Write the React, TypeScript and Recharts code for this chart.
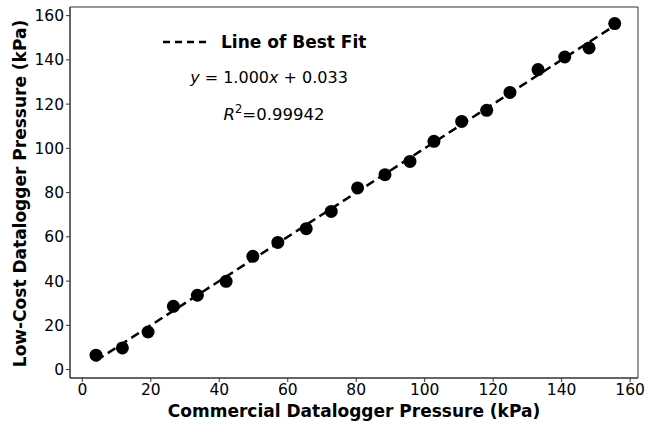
import React from 'react';
import { ScatterChart, Scatter, XAxis, YAxis, ReferenceArea } from 'recharts';

// commercial logger readings (kPa) vs low-cost logger readings (kPa)
const commercialKPa = [4.0, 11.7, 19.2, 26.6, 33.6, 42.0, 49.8, 57.1, 65.4, 72.7, 80.4, 88.4, 95.7, 102.7, 110.8, 118.1, 124.9, 133.1, 140.9, 148.0, 155.5];
const lowCostKPa = [6.5, 9.8, 17.0, 28.6, 33.6, 39.9, 51.2, 57.5, 63.7, 71.5, 82.1, 88.1, 94.1, 103.2, 112.2, 117.2, 125.3, 135.6, 141.3, 145.4, 156.4];

// end points of the fitted line y = 1.000x + 0.033
const fitX = [4.0, 156.5];
const fitY = [4.03, 156.53];

const tickValues = [0, 20, 40, 60, 80, 100, 120, 140, 160];

const points = commercialKPa.map((x, i) => ({ x, y: lowCostKPa[i] }));
const fitLine = fitX.map((x, i) => ({ x, y: fitY[i] }));

const FONT = '"DejaVu Sans", sans-serif';
const X_DOMAIN = [-3.6, 162.3];
const Y_DOMAIN = [-3.8, 163.9];

const Dot = (props: any) => <circle cx={props.cx} cy={props.cy} r={6.5} fill="#000" />;

export default function App() {
  return (
    <div style={{ position: 'absolute', left: 0, top: 0, width: 647, height: 422, background: '#fff', fontFamily: FONT }}>
      <ScatterChart width={647} height={422} margin={{ top: 7, right: 9, left: 0, bottom: 0 }}>
        <XAxis
          type="number"
          dataKey="x"
          domain={X_DOMAIN}
          ticks={tickValues}
          interval={0}
          allowDataOverflow
          height={44}
          tickSize={4}
          stroke="#333"
          tick={{ fill: '#000', fontSize: 15.5, fontFamily: FONT }}
        />
        <YAxis
          type="number"
          dataKey="y"
          domain={Y_DOMAIN}
          ticks={tickValues}
          interval={0}
          allowDataOverflow
          width={70}
          tickSize={4}
          stroke="#333"
          tick={{ fill: '#000', fontSize: 15.5, fontFamily: FONT }}
        />
        <ReferenceArea x1={X_DOMAIN[0]} x2={X_DOMAIN[1]} y1={Y_DOMAIN[0]} y2={Y_DOMAIN[1]} fill="none" stroke="#333" strokeWidth={1} />
        <Scatter data={points} shape={Dot} isAnimationActive={false} />
        <Scatter
          data={fitLine}
          line={{ stroke: '#000', strokeWidth: 2.5, strokeDasharray: '9 5' }}
          shape={() => <g />}
          isAnimationActive={false}
        />
      </ScatterChart>
      <svg width={647} height={422} style={{ position: 'absolute', left: 0, top: 0, pointerEvents: 'none' }}>
        {/* axis titles */}
        <text x={354} y={416.5} textAnchor="middle" fontFamily={FONT} fontWeight="bold" fontSize={17} fill="#000">
          Commercial Datalogger Pressure (kPa)
        </text>
        <text
          x={0}
          y={0}
          transform="translate(25.5 193.5) rotate(-90)"
          textAnchor="middle"
          fontFamily={FONT}
          fontWeight="bold"
          fontSize={17}
          fill="#000"
        >
          Low-Cost Datalogger Pressure (kPa)
        </text>
        {/* in-plot legend and fit statistics */}
        <line x1={163} y1={42} x2={208} y2={42} stroke="#000" strokeWidth={2.5} strokeDasharray="7 5" />
        <text x={221} y={48} fontFamily={FONT} fontWeight="bold" fontSize={17} fill="#000">Line of Best Fit</text>
        <text x={269} y={83} textAnchor="middle" fontFamily={FONT} fontSize={16} fill="#000">
          <tspan fontStyle="italic">y</tspan>
          <tspan> = 1.000</tspan>
          <tspan fontStyle="italic">x</tspan>
          <tspan> + 0.033</tspan>
        </text>
        <text x={274} y={120} textAnchor="middle" fontFamily={FONT} fontSize={16.5} fill="#000">
          <tspan fontStyle="italic">R</tspan>
          <tspan dy={-7} fontSize={11.5}>2</tspan>
          <tspan dy={7}>=0.99942</tspan>
        </text>
      </svg>
    </div>
  );
}
